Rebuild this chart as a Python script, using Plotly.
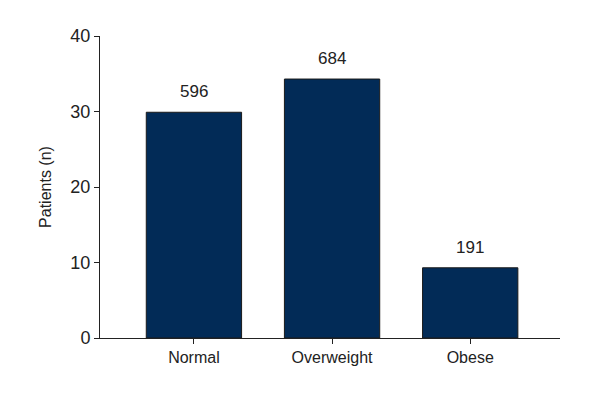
import plotly.graph_objects as go

categories = ["Normal", "Overweight", "Obese"]
percent = [29.9, 34.3, 9.3]
patients = [596, 684, 191]

FONT = "Liberation Sans Narrow, Liberation Sans, Arial, sans-serif"

fig = go.Figure()

fig.add_trace(go.Bar(x=categories, y=percent,
                     marker_color='#022b57',
                     marker_line_color='#1a1a1a', marker_line_width=1,
                     width=0.69, showlegend=False, hoverinfo='skip'))

# counts above the bars
for c, v, n in zip(categories, percent, patients):
    fig.add_annotation(x=c, y=v, text=str(n), showarrow=False,
                       yanchor='bottom', yshift=9,
                       font=dict(family=FONT, size=17, color='#222'))

fig.update_layout(
    width=600, height=400,
    margin=dict(l=92, r=48, t=28, b=70),
    plot_bgcolor='white', paper_bgcolor='white',
    font=dict(family=FONT, size=17, color='#222'),
    xaxis=dict(range=[-0.68, 2.65], showline=True, linecolor='#222', linewidth=1,
               ticks='outside', ticklen=5, tickcolor='#222', showgrid=False,
               tickfont=dict(size=16)),
    yaxis=dict(range=[0, 40], tickvals=[0, 10, 20, 30, 40], showline=True,
               linecolor='#222', linewidth=1, ticks='outside', ticklen=5,
               tickcolor='#222', showgrid=False, zeroline=False,
               title=dict(text='Patients (n)', font=dict(size=16), standoff=14),
               tickfont=dict(size=18)),
)

fig.write_html("out.html")
